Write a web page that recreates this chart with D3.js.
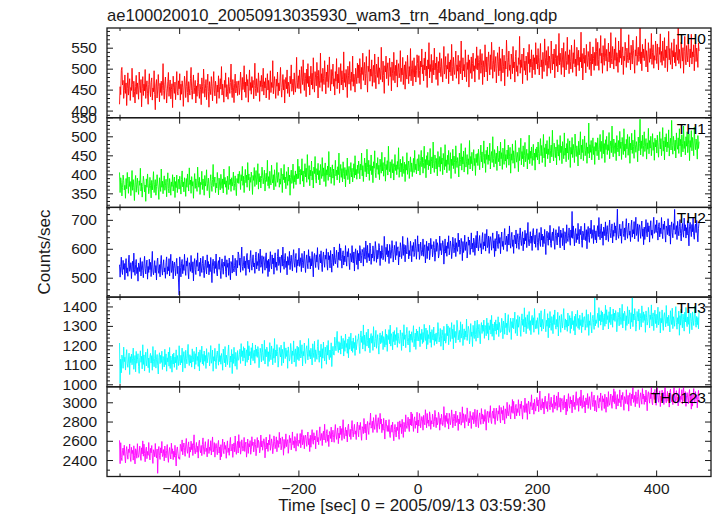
<!DOCTYPE html>
<html><head><meta charset="utf-8">
<script src="https://cdn.jsdelivr.net/npm/d3@7/dist/d3.min.js"></script>
<style>body{margin:0;background:#fff}svg{display:block}</style>
</head><body>
<script>
// ---- data: 1 s bins starting at -500 s ----
const tStart = -500, binSize = 1;
const titleText = "ae100020010_20050913035930_wam3_trn_4band_long.qdp";
const xLabel = "Time [sec] 0 = 2005/09/13 03:59:30";
const yLabel = "Counts/sec";
const panelNames = ["TH0", "TH1", "TH2", "TH3", "TH0123"];
const panelColors = ["#ff0000", "#00ff00", "#0000ff", "#00ffff", "#ff00ff"];
const xTicks = [-400, -200, 0, 200, 400];
const xMinorTicks = [-500, -300, -100, 100, 300];
const yDomains = [[383, 597], [313, 549], [433, 743], [987, 1448], [2229, 3161]];
const yMajorTicks = [[400, 450, 500, 550], [350, 400, 450, 500, 550], [500, 600, 700], [1000, 1100, 1200, 1300, 1400], [2400, 2600, 2800, 3000]];
const yMinorStep = [10, 10, 20, 20, 100];

const th0 = [
415,457,438,496,503,461,472,429,448,485,441,466,412,453,490,437,459,476,424,455,448,501,463,432,470,445,418,458,484,439,466,451,427,492,460,443,474,409,452,481,436,463,447,498,429,456,471,440,415,462,488,451,433,467,478,425,454,445,495,438,402,461,474,430,449,486,457,421,465,443,470,436,459,512,448,427,463,480,452,418,444,469,491,434,457,473,428,450,464,407,482,455,441,468,426,459,493,446,437,471,
452,488,425,463,439,471,456,410,447,482,466,431,458,495,443,420,469,452,437,476,503,448,427,461,485,440,455,472,418,459,434,467,490,446,429,463,451,414,478,457,441,499,465,432,453,474,426,460,487,445,408,469,452,438,481,457,423,464,493,449,435,470,456,417,461,444,483,429,458,476,451,505,437,463,448,420,472,455,490,433,462,446,427,479,458,441,467,511,448,431,474,456,419,465,487,442,453,470,436,460,
471,438,455,492,466,425,479,450,463,507,444,468,431,486,459,474,420,462,497,448,467,439,481,455,472,428,460,513,452,435,476,458,443,490,466,422,471,457,484,446,463,501,437,469,454,478,430,459,488,449,472,426,461,495,443,467,455,519,440,464,481,452,429,475,458,492,436,466,447,470,503,455,432,461,486,449,474,418,463,479,452,497,441,468,457,433,482,464,509,446,459,475,438,490,461,444,471,527,453,467,
483,452,497,468,441,505,479,462,521,470,448,490,476,433,499,465,512,457,482,437,474,506,461,489,451,526,470,444,493,478,459,515,484,430,496,472,455,537,467,488,446,501,476,462,519,481,440,492,469,509,455,485,528,471,447,498,463,482,511,458,476,437,493,470,524,452,487,466,503,441,480,512,461,495,474,449,540,467,489,456,498,473,431,506,484,463,517,477,448,492,469,530,458,487,475,444,501,482,464,513,
478,509,465,524,490,451,503,486,537,472,496,515,461,488,529,477,444,506,493,545,470,499,482,521,458,494,508,467,535,486,452,511,497,479,528,463,502,489,474,551,495,468,518,484,441,507,492,530,476,499,514,460,493,525,481,503,447,516,488,472,539,495,466,508,483,521,456,497,512,478,490,543,469,501,485,527,462,494,509,451,517,487,475,532,498,464,505,482,548,471,500,519,459,492,526,480,507,468,495,533,
512,479,531,496,462,518,504,547,488,509,471,525,497,540,483,506,455,521,499,562,478,510,493,534,466,502,520,485,549,497,513,474,528,501,460,517,490,538,506,481,524,495,468,511,553,487,503,529,476,508,499,536,464,516,492,521,483,558,505,471,527,498,486,514,542,477,509,494,532,463,503,519,488,566,501,473,526,495,510,480,545,507,469,515,498,533,456,521,504,489,528,476,512,537,494,507,468,524,500,552,
497,531,515,474,522,546,489,508,536,462,519,503,480,557,511,492,528,471,515,540,506,485,533,498,563,520,477,509,544,493,512,529,466,501,538,517,483,552,495,524,470,511,547,490,505,532,459,518,499,568,527,481,514,542,496,509,475,535,521,488,553,502,516,468,529,544,493,507,482,526,510,577,489,521,503,535,464,513,549,496,518,485,530,506,472,539,512,558,491,523,504,545,478,517,533,497,526,486,562,511,
532,499,548,512,485,527,560,504,521,476,539,516,493,571,526,508,543,482,519,553,501,530,514,489,566,522,497,535,511,547,478,524,558,506,531,492,518,584,509,537,515,486,549,523,503,562,480,528,541,497,520,575,510,533,488,545,517,499,556,526,491,538,512,569,504,523,482,551,530,508,544,495,527,516,587,502,536,473,521,549,513,532,490,558,519,505,541,527,498,564,517,483,535,511,552,524,496,539,507,572,
541,507,563,522,496,548,531,579,513,537,489,555,527,508,572,535,518,546,494,529,561,516,540,502,586,524,511,553,533,499,547,520,574,506,538,529,491,566,515,544,525,596,509,536,552,486,530,519,563,541,503,549,527,514,581,521,538,497,556,532,511,568,543,520,489,545,530,577,508,534,551,517,529,601,512,540,495,558,526,547,519,535,571,504,543,528,492,562,536,515,548,523,584,510,539,557,501,531,520,566,
538,512,559,527,497,551,534,583,515,541,508,566,530,519,574,502,545,526,554,493,537,589,521,548,510,533,562,499,543,528,571,514,539,506,557,530,520,598,512,546,525,501,563,535,518,550,489,541,577,523,509,555,532,516,569,538,504,547,526,582,511,540,528,557,495,536,564,517,549,530,503,561,542];

const th1 = [
405,352,391,378,343,366,398,384,359,371,337,389,362,405,376,350,393,368,381,344,372,410,358,386,365,331,379,397,353,374,390,362,347,383,371,416,356,377,340,368,395,381,354,372,329,388,366,401,375,349,363,392,370,338,384,359,379,407,352,373,386,345,368,399,377,361,334,391,372,355,414,366,382,349,375,396,358,370,387,341,378,404,363,351,389,372,345,380,368,399,356,374,393,339,381,365,398,352,376,387,
361,395,372,348,386,409,367,380,354,391,374,342,389,366,401,378,356,417,373,385,350,394,369,381,337,378,402,363,388,371,355,419,384,366,392,347,379,373,408,360,388,375,345,397,369,383,412,357,376,390,364,338,382,399,371,355,386,426,368,379,393,352,377,364,405,381,346,390,372,359,400,377,363,388,351,414,374,392,366,383,347,395,378,360,421,373,387,355,391,369,382,406,358,376,396,365,344,389,378,401,
376,408,392,360,399,383,421,371,395,352,387,413,378,398,366,431,385,401,357,392,379,406,390,347,397,384,418,368,393,410,373,386,428,361,402,380,395,364,389,419,398,375,391,411,356,387,403,381,437,370,394,363,408,385,372,424,390,377,399,359,412,383,368,396,431,379,391,405,366,388,374,416,395,352,401,386,426,378,393,362,407,389,371,419,382,398,345,392,411,376,385,427,363,397,380,409,373,401,388,440,
389,421,405,374,413,398,441,382,409,367,400,428,393,416,379,452,404,387,423,370,411,396,435,385,408,364,419,402,447,391,377,415,399,429,386,410,372,426,403,389,444,395,417,381,406,430,368,412,398,422,384,460,401,393,419,376,408,425,390,414,371,403,437,396,411,385,420,399,456,378,407,426,392,415,380,433,402,388,418,367,412,397,443,386,409,421,375,404,431,393,416,380,405,428,391,449,398,413,387,424,
402,435,419,388,427,411,456,396,423,381,414,443,407,430,393,466,418,401,437,384,425,410,451,399,422,378,433,416,462,405,391,429,413,444,400,424,386,440,417,403,458,409,431,395,420,445,382,426,412,436,398,474,415,407,433,390,422,439,404,428,385,417,452,410,425,399,434,413,470,392,421,440,406,429,394,447,416,402,432,381,426,411,457,400,423,435,389,418,446,407,430,394,419,442,405,463,412,427,401,438,
441,409,452,427,398,436,463,420,445,403,431,474,416,439,391,449,425,458,412,437,422,468,401,433,446,417,485,428,405,451,436,414,442,396,460,430,419,447,408,471,427,443,399,455,434,412,478,421,438,404,450,426,463,410,432,457,389,440,423,466,415,448,431,402,475,437,418,444,429,393,456,422,439,481,411,446,427,461,406,435,470,419,433,452,400,441,425,489,414,447,428,458,409,436,465,423,442,397,453,431,
455,423,466,440,412,450,477,433,459,417,445,488,429,453,405,463,439,472,426,451,436,482,414,447,460,431,499,442,419,465,450,428,456,410,474,444,433,461,422,485,441,457,413,469,448,426,492,435,452,418,464,440,477,424,446,471,403,454,437,480,429,462,445,416,489,451,432,458,443,407,470,436,453,495,425,460,441,475,420,449,484,433,447,466,414,455,439,503,428,461,442,472,423,450,479,437,456,411,467,445,
472,438,485,455,427,466,494,449,476,431,461,505,443,470,420,480,454,489,441,467,452,499,430,463,477,446,516,458,435,482,466,444,472,425,491,460,448,478,437,502,457,474,428,486,463,441,509,450,469,433,481,456,494,439,461,488,418,471,453,497,444,479,462,431,506,467,447,475,459,422,487,451,470,512,440,477,457,492,436,465,501,449,463,483,429,472,455,535,443,478,458,489,438,467,496,452,473,426,484,461,
483,449,496,466,438,477,505,460,487,442,472,516,454,481,431,491,465,500,452,478,463,510,441,474,488,457,527,469,446,493,477,455,483,436,502,471,459,489,448,513,468,485,439,497,474,452,520,461,480,444,492,467,505,450,472,499,429,482,464,508,455,490,473,442,517,478,458,486,470,433,498,462,481,545,451,488,468,503,447,476,512,460,474,494,440,483,466,521,454,489,469,500,449,478,507,463,484,437,495,472,
490,456,503,473,445,484,512,467,494,449,479,523,461,488,438,498,472,507,459,485,470,517,448,481,495,464,542,476,453,500,484,462,490,443,509,478,466,496,455,520,475,492,446,504,481,459,527,468,487,451,499,474,512,457,479,506,436,489,471,515,462,497,480,449,524,485,465,493,477,440,502,468,486];

const th2 = [
545,502,538,571,524,511,560,529,549,493,541,566,516,534,505,554,578,522,530,552,497,540,557,519,585,527,508,546,563,514,535,488,551,542,521,569,506,537,556,525,500,548,574,531,513,544,561,495,539,518,564,528,553,504,547,591,523,510,536,559,517,542,492,555,568,526,515,545,503,550,577,530,509,541,562,520,534,498,552,572,512,538,524,566,506,547,581,518,527,558,496,543,554,532,507,549,567,514,540,485,
440,572,536,503,550,563,514,545,525,581,533,508,558,540,569,520,496,552,544,522,577,534,517,555,489,547,566,528,511,560,539,586,523,532,553,505,568,537,518,549,574,526,500,543,561,530,513,579,535,556,510,546,521,570,527,483,551,564,538,515,557,532,582,519,506,548,559,529,571,524,497,544,565,533,512,554,540,576,522,502,562,536,550,508,568,527,493,556,547,516,578,531,520,542,567,525,507,560,534,589,
579,543,568,519,562,606,538,525,551,574,533,558,508,571,584,542,531,561,519,566,594,547,526,558,579,537,551,515,569,589,530,556,542,584,524,565,599,536,545,576,515,562,573,551,526,568,586,533,559,504,564,521,557,590,543,530,579,548,568,512,561,586,536,554,525,574,598,542,550,572,518,561,578,540,606,548,529,567,584,535,557,510,573,564,543,591,528,559,578,547,523,571,597,554,536,567,584,518,562,541,
555,602,539,548,569,521,584,553,534,565,592,544,518,561,579,548,531,597,553,574,530,566,541,590,547,503,571,584,558,535,579,554,604,541,528,570,581,551,593,546,521,568,589,557,536,578,564,600,546,526,588,562,576,534,594,553,519,582,573,542,606,559,548,570,595,553,535,588,562,617,559,602,566,533,580,593,544,575,555,611,565,540,590,572,601,552,528,584,576,554,611,568,551,589,523,581,600,562,545,594,
529,584,558,611,593,551,576,598,587,540,604,573,564,627,593,552,612,570,584,558,620,600,546,582,568,610,589,557,578,625,600,553,595,565,576,618,605,542,592,567,611,588,562,575,643,599,556,605,580,616,572,593,549,615,598,567,585,628,602,554,581,612,593,562,625,577,598,607,544,591,572,621,604,566,585,643,577,615,598,555,612,590,582,638,614,565,594,576,626,601,555,611,591,622,573,586,633,600,564,607,
645,590,616,563,581,623,598,576,587,634,574,605,614,551,585,626,566,608,594,620,562,582,636,600,614,572,593,625,604,557,586,633,591,621,610,568,581,644,594,619,579,602,628,615,547,591,634,585,610,574,622,601,645,579,596,627,609,566,592,640,617,586,605,636,573,621,600,591,654,607,630,581,598,636,617,559,625,587,604,647,594,616,624,568,592,641,612,630,580,605,655,599,619,588,637,624,577,610,646,603,
661,614,593,625,646,604,618,582,636,656,598,624,610,652,592,633,667,604,613,644,584,631,642,620,595,637,655,602,628,573,635,592,628,661,614,601,650,619,639,583,633,658,608,626,597,646,670,614,622,644,591,634,651,613,679,621,602,640,657,608,631,584,647,638,617,665,602,633,652,621,598,646,672,629,611,642,659,593,637,616,664,628,653,604,647,691,623,610,636,659,619,644,594,657,670,628,617,647,605,652,
669,621,595,638,656,625,608,674,630,651,607,643,618,667,624,580,648,661,635,612,656,631,681,618,605,647,658,628,670,623,598,645,666,634,613,655,641,677,623,603,665,639,653,611,671,630,596,659,650,619,683,636,625,647,672,630,612,665,639,729,636,679,643,610,657,670,621,652,632,688,642,617,667,649,678,629,605,661,653,631,688,645,628,666,600,658,677,639,622,671,652,699,636,645,666,618,681,650,631,662,
620,663,680,642,708,650,631,669,686,637,659,612,675,666,645,693,630,661,680,649,625,673,699,656,638,669,686,620,664,643,690,654,679,630,673,737,649,636,662,685,644,669,619,682,695,653,642,672,630,677,704,657,636,668,689,647,661,625,679,699,640,666,652,694,634,675,709,646,655,686,625,672,683,661,636,678,696,643,669,614,675,632,668,701,654,641,690,659,679,623,672,697,647,665,636,685,709,653,661,683,
656,699,663,630,677,690,641,672,652,708,660,635,685,667,696,647,623,679,671,649,704,661,644,682,616,674,693,655,638,687,666,736,650,659,680,632,695,664,645,676,701,653,627,670,688,657,640,706,662,683,637,673,648,697,654,610,678,691,665,642,684,659,709,646,633,675,686,656,698,651,624,671,692];

const th3 = [
1212,1005,1129,1059,1150,1132,1082,1191,1116,1139,1073,1146,1178,1105,1087,1125,1160,1050,1142,1111,1155,1100,1134,1186,1077,1121,1148,1064,1169,1108,1128,1157,1091,1056,1137,1172,1113,1144,1079,1203,1102,1151,1068,1130,1165,1094,1123,1182,1085,1135,1060,1141,1159,1109,1147,1072,1194,1118,1090,1133,1175,1083,1126,1153,1098,1053,1138,1162,1106,1149,1112,1170,1076,1143,1131,1089,1180,1101,1156,1067,1136,1115,1166,1093,1189,1081,1145,1127,1062,1154,1104,1161,1087,1140,1110,1177,1075,1148,1122,1096,
1198,1117,1099,1149,1111,1186,1064,1140,1168,1125,1083,1175,1132,1105,1160,1205,1120,1096,1152,1109,1146,1088,1182,1115,1127,1169,1078,1157,1102,1191,1122,1143,1092,1165,1069,1177,1113,1131,1196,1104,1154,1097,1171,1118,1148,1081,1183,1110,1136,1162,1163,1094,1129,1199,1108,1126,1176,1067,1142,1119,1185,1112,1080,1153,1171,1133,1098,1208,1116,1147,1103,1158,1124,1072,1181,1137,1110,1194,1089,1150,1130,1101,1167,1202,1121,1086,1145,1114,1179,1055,1156,1107,1190,1128,1093,1164,1135,1076,1173,1123,
1128,1154,1180,1107,1209,1142,1172,1119,1193,1136,1186,1094,1159,1177,1113,1221,1125,1198,1147,1168,1099,1188,1133,1212,1121,1163,1175,1108,1202,1144,1181,1138,1194,1170,1085,1130,1185,1158,1115,1207,1165,1122,1150,1226,1104,1179,1141,1191,1173,1092,1167,1117,1214,1155,1126,1197,1162,1100,1183,1134,1235,1111,1176,1145,1204,1169,1088,1123,1189,1160,1140,1201,1096,1180,1153,1109,1218,1166,1132,1187,1143,1174,1082,1192,1157,1119,1137,1210,1178,1105,1171,1148,1223,1114,1164,1182,1091,1161,1196,1127,
1190,1121,1156,1226,1135,1153,1203,1094,1169,1146,1212,1139,1107,1180,1198,1160,1125,1235,1143,1174,1130,1185,1151,1099,1208,1164,1137,1221,1116,1177,1157,1128,1194,1229,1148,1113,1172,1141,1206,1082,1183,1134,1217,1155,1120,1191,1162,1103,1200,1150,1225,1144,1126,1176,1138,1213,1091,1167,1195,1152,1150,1242,1199,1172,1227,1272,1187,1163,1219,1176,1213,1155,1249,1182,1194,1236,1145,1224,1169,1258,1189,1210,1159,1232,1136,1244,1180,1198,1263,1171,1221,1164,1238,1185,1215,1148,1250,1177,1203,1229,
1230,1259,1193,1158,1239,1274,1215,1246,1181,1305,1204,1253,1170,1232,1267,1196,1225,1284,1187,1237,1162,1243,1261,1211,1249,1174,1296,1220,1192,1235,1277,1185,1228,1255,1200,1155,1240,1264,1208,1251,1214,1272,1178,1245,1233,1191,1282,1203,1258,1169,1251,1230,1281,1208,1304,1196,1260,1242,1177,1269,1219,1276,1202,1255,1225,1292,1190,1263,1237,1211,1210,1279,1244,1174,1265,1247,1197,1306,1231,1254,1188,1261,1293,1220,1202,1240,1275,1165,1257,1226,1270,1215,1249,1301,1192,1236,1263,1179,1284,1223,
1274,1248,1222,1295,1193,1260,1230,1283,1209,1266,1216,1308,1243,1225,1289,1181,1277,1204,1255,1234,1303,1214,1269,1190,1281,1239,1227,1294,1200,1258,1221,1264,1208,1232,1317,1272,1217,1244,1287,1195,1237,1280,1252,1176,1298,1223,1261,1211,1229,1310,1250,1300,1203,1262,1291,1220,1255,1317,1234,1283,1182,1306,1241,1272,1213,1248,1329,1294,1228,1257,1277,1216,1321,1237,1264,1308,1199,1251,1285,1230,1274,1243,1335,1225,1260,1298,1280,1207,1239,1312,1246,1269,1194,1303,1253,1235,1326,1256,1221,1290,
1330,1238,1281,1308,1253,1208,1293,1317,1261,1304,1272,1330,1236,1303,1291,1249,1340,1261,1316,1227,1301,1280,1331,1258,1354,1246,1310,1292,1227,1319,1274,1331,1257,1310,1280,1347,1245,1318,1292,1266,1270,1339,1304,1234,1325,1307,1257,1366,1291,1314,1253,1326,1358,1285,1267,1305,1340,1230,1322,1291,1340,1285,1319,1371,1262,1306,1333,1249,1354,1293,1318,1347,1281,1246,1327,1362,1303,1334,1269,1393,1294,1343,1260,1322,1357,1286,1315,1374,1277,1327,1255,1336,1354,1304,1342,1267,1389,1313,1285,1328,
1287,1342,1308,1256,1365,1321,1294,1378,1273,1334,1314,1285,1351,1386,1305,1270,1329,1298,1363,1239,1340,1291,1374,1312,1277,1348,1319,1260,1357,1307,1382,1301,1283,1333,1295,1370,1248,1324,1352,1309,1267,1359,1316,1289,1344,1389,1304,1280,1336,1293,1330,1272,1366,1299,1311,1353,1262,1341,1286,1375,1306,1327,1276,1349,1253,1361,1297,1315,1380,1288,1338,1281,1355,1302,1332,1265,1367,1294,1320,1346,1347,1278,1313,1383,1292,1310,1360,1251,1326,1303,1369,1296,1264,1337,1355,1317,1282,1445,1300,1331,
1313,1339,1365,1292,1394,1327,1357,1304,1378,1321,1371,1279,1344,1362,1298,1406,1310,1383,1332,1353,1284,1373,1318,1397,1306,1348,1360,1293,1387,1329,1366,1323,1379,1355,1270,1315,1370,1343,1300,1392,1350,1307,1335,1411,1289,1364,1326,1376,1358,1277,1352,1302,1399,1340,1311,1382,1347,1285,1368,1319,1446,1296,1361,1330,1389,1354,1273,1308,1374,1345,1325,1386,1281,1365,1338,1294,1403,1351,1317,1372,1328,1359,1267,1377,1342,1304,1322,1395,1363,1290,1356,1333,1408,1299,1349,1367,1276,1346,1381,1312,
1360,1291,1326,1396,1305,1323,1373,1264,1339,1316,1382,1309,1277,1350,1368,1330,1295,1405,1313,1344,1300,1355,1321,1269,1378,1334,1307,1391,1286,1347,1327,1298,1364,1399,1318,1283,1342,1311,1376,1252,1353,1304,1387,1325,1290,1361,1332,1273,1370,1320,1395,1314,1296,1346,1308,1383,1261,1337,1365,1322,1280,1372,1329,1302,1357,1402,1317,1293,1349,1306,1343,1285,1379];

const th0123 = [
2605,2362,2580,2427,2394,2497,2525,2449,2554,2438,2370,2486,2540,2459,2409,2512,2477,2567,2433,2385,2532,2467,2501,2399,2548,2444,2360,2517,2494,2419,2570,2456,2428,2483,2545,2441,2396,2527,2464,2599,2440,2565,2468,2382,2503,2534,2414,2489,2449,2582,2462,2401,2521,2475,2551,2431,2365,2507,2488,2434,2572,2459,2422,2514,2262,2495,2541,2447,2406,2527,2473,2593,2436,2455,2509,2391,2546,2470,2423,2499,2561,2443,2376,2484,2530,2454,2411,2575,2466,2517,2404,2492,2430,2553,2446,2338,2504,2536,2472,2417,
2430,2407,2564,2545,2491,2609,2454,2530,2577,2501,2439,2557,2624,2516,2470,2546,2589,2425,2534,2483,2596,2508,2570,2447,2554,2662,2496,2464,2528,2583,2481,2543,2420,2573,2606,2503,2475,2551,2446,2562,2630,2514,2460,2541,2591,2488,2523,2433,2567,2615,2468,2533,2499,2601,2452,2556,2640,2483,2506,2581,2430,2544,2572,2517,2455,2559,2604,2473,2536,2401,2560,2435,2532,2618,2497,2466,2586,2511,2551,2418,2538,2599,2479,2525,2449,2569,2635,2493,2512,2566,2428,2541,2578,2486,2650,2505,2459,2553,2594,2473,
2664,2529,2592,2461,2506,2610,2548,2493,2521,2635,2489,2564,2587,2430,2514,2618,2469,2571,2537,2602,2460,2508,2642,2552,2587,2484,2534,2615,2561,2445,2518,2634,2529,2605,2577,2474,2507,2660,2537,2599,2502,2557,2621,2589,2423,2531,2638,2515,2577,2489,2607,2556,2665,2501,2544,2620,2574,2466,2533,2651,2594,2518,2565,2641,2486,2604,2600,2531,2688,2568,2627,2506,2547,2641,2595,2450,2614,2522,2559,2672,2539,2593,2612,2470,2536,2656,2580,2626,2506,2567,2692,2559,2599,2524,2644,2613,2492,2602,2675,2550,
2543,2608,2574,2676,2527,2631,2715,2558,2581,2656,2517,2631,2659,2604,2542,2646,2691,2560,2623,2488,2658,2533,2630,2716,2595,2564,2684,2609,2649,2516,2648,2709,2589,2635,2559,2679,2745,2603,2622,2676,2550,2663,2700,2608,2772,2627,2581,2675,2716,2595,2660,2540,2697,2678,2624,2742,2587,2663,2710,2634,2584,2702,2769,2661,2615,2691,2734,2570,2679,2628,2753,2665,2727,2604,2711,2819,2653,2621,2685,2740,2649,2711,2588,2741,2774,2671,2643,2719,2614,2730,2810,2694,2640,2721,2771,2668,2703,2613,2747,2795,
2702,2641,2761,2715,2791,2671,2605,2747,2728,2674,2832,2719,2682,2774,2610,2755,2801,2707,2666,2787,2768,2888,2731,2750,2804,2686,2841,2765,2718,2794,2871,2753,2686,2794,2840,2764,2721,2885,2776,2827,2684,2772,2710,2833,2726,2618,2784,2816,2752,2697,2759,2697,2820,2667,2634,2737,2765,2689,2794,2678,2600,2716,2770,2689,2639,2742,2707,2797,2663,2615,2807,2742,2776,2674,2823,2719,2635,2792,2769,2694,2870,2756,2728,2783,2845,2741,2696,2827,2764,2899,2755,2880,2783,2697,2818,2849,2729,2804,2764,2897,
2681,2816,2753,2884,2839,2735,2797,2852,2824,2710,2864,2789,2766,2923,2839,2735,2884,2782,2816,2751,2901,2853,2719,2809,2774,2877,2827,2746,2800,2916,2852,2736,2841,2765,2793,2896,2863,2710,2833,2771,2876,2821,2757,2789,2955,2847,2740,2863,2801,2889,2780,2831,2722,2886,2843,2767,2813,2921,2854,2736,2801,2877,2830,2754,2909,2791,2795,2864,2707,2827,2776,2897,2856,2762,2808,2953,2789,2881,2844,2731,2873,2819,2800,2942,2876,2756,2832,2786,2906,2845,2728,2861,2821,2896,2776,2807,2928,2818,2745,2870,
2921,2803,2736,2844,2890,2814,2771,2935,2826,2877,2776,2864,2802,2925,2818,2710,2876,2908,2844,2789,2904,2842,2965,2812,2779,2882,2910,2834,2939,2823,2770,2886,2940,2859,2809,2912,2877,2967,2833,2785,2947,2882,2916,2814,2963,2859,2775,2932,2909,2834,3000,2886,2858,2913,2975,2871,2826,2957,2894,3029,2885,3010,2913,2827,2948,2979,2859,2934,2894,3027,2922,2861,2981,2935,3011,2891,2825,2967,2948,2894,3044,2931,2894,2986,2822,2967,3013,2919,2878,2999,2958,3078,2921,2940,2994,2876,3031,2955,2908,2984,
3051,2963,3025,2902,3009,3117,2951,2919,2983,3038,2939,3001,2878,3031,3064,2961,2933,3009,2904,3020,3092,2976,2922,3003,3053,2950,2985,2895,3029,3077,2933,2998,2964,3066,2917,3021,3105,2948,2971,3046,2898,3012,3040,2985,2923,3027,3072,2941,3004,2869,3032,2907,3004,3090,2969,2938,3058,2983,3023,2890,3013,3074,2954,3000,2924,3044,3110,2968,2987,3041,2906,3019,3056,2964,3128,2983,2937,3031,3072,2951,3009,2889,3046,3027,2973,3091,2936,3012,3059,2983,2924,3042,3109,3001,2955,3031,3074,2910,3019,2968,
2900,3016,3070,2989,2939,3042,3007,3097,2963,2915,3068,3003,3037,2935,3084,2980,2896,3053,3030,2955,3111,2997,2969,3024,3086,2982,2937,3068,3005,3140,2987,3112,3015,2929,3050,3081,2961,3036,2996,3129,3014,2953,3073,3027,3103,2983,2917,3059,3040,2986,3130,3017,2980,3072,2908,3053,3099,3005,2964,3085,3036,3156,2999,3018,3072,2954,3109,3033,2986,3062,3130,3012,2945,3053,3099,3023,2980,3144,3035,3086,2978,3066,3004,3127,3020,2912,3078,3110,3046,2991,3099,3037,3160,3007,2974,3077,3105,3029,3134,3018,
2969,3087,3154,3046,3000,3076,3119,2955,3064,3013,3126,3038,3100,2977,3084,3192,3026,2994,3058,3113,3011,3073,2950,3103,3136,3033,3005,3081,2976,3092,3160,3044,2990,3071,3121,3018,3053,2963,3097,3145,2998,3063,3029,3131,2982,3086,3170,3013,3036,3111,2958,3072,3100,3045,2983,3087,3132,3001,3064,2929,3085,2960,3057,3143,3022,2991,3111,3036,3076,2943,3063,3124,3004];

const seriesList = [th0, th1, th2, th3, th0123];

// ---- layout ----
const W = 717, H = 516;
const plotLeft = 107, plotRight = 711, plotTop = 28, plotBottom = 476.5;
const nP = seriesList.length;
const pH = (plotBottom - plotTop) / nP;
const font = "'Liberation Sans', Arial, Helvetica, sans-serif";
const ink = "#1a1a1a";

const svg = d3.select("body").append("svg").attr("width", W).attr("height", H);
svg.append("rect").attr("width", W).attr("height", H).attr("fill", "#fff");

const x = d3.scaleLinear().domain([-521, 492]).range([plotLeft, plotRight]);
const defs = svg.append("defs");

function styleAxis(g, size) {
  g.attr("font-family", font).attr("font-size", size);
  g.select(".domain").remove();
  g.selectAll(".tick line").attr("stroke", ink).attr("stroke-width", 1);
  g.selectAll(".tick text").attr("fill", ink);
}

seriesList.forEach((vals, p) => {
  const y0 = plotTop + p * pH, y1 = plotTop + (p + 1) * pH;
  const y = d3.scaleLinear().domain(yDomains[p]).range([y1, y0]);
  const tOf = i => tStart + i * binSize;

  defs.append("clipPath").attr("id", "clip" + p)
    .append("rect").attr("x", plotLeft).attr("y", y0).attr("width", plotRight - plotLeft).attr("height", pH);

  const line = d3.line().x((d, i) => x(tOf(i))).y(d => y(d));
  svg.append("path").datum(vals)
    .attr("clip-path", `url(#clip${p})`)
    .attr("fill", "none").attr("stroke", panelColors[p])
    .attr("stroke-width", 0.9).attr("stroke-linejoin", "bevel")
    .attr("d", line);

  const [d0, d1] = yDomains[p];
  const minors = d3.range(Math.ceil(d0 / yMinorStep[p]) * yMinorStep[p], d1, yMinorStep[p])
    .filter(v => !yMajorTicks[p].includes(v));
  svg.append("g").attr("transform", `translate(${plotLeft},0)`)
    .call(d3.axisLeft(y).tickValues(minors).tickSizeInner(-3).tickSizeOuter(0).tickFormat(""))
    .call(g => styleAxis(g, 15.5));
  svg.append("g").attr("transform", `translate(${plotRight},0)`)
    .call(d3.axisRight(y).tickValues(minors).tickSizeInner(-3).tickSizeOuter(0).tickFormat(""))
    .call(g => styleAxis(g, 15.5));
  svg.append("g").attr("transform", `translate(${plotLeft},0)`)
    .call(d3.axisLeft(y).tickValues(yMajorTicks[p]).tickSizeInner(-6).tickSizeOuter(0).tickPadding(10).tickFormat(d3.format("d")))
    .call(g => styleAxis(g, 15.5));
  svg.append("g").attr("transform", `translate(${plotRight},0)`)
    .call(d3.axisRight(y).tickValues(yMajorTicks[p]).tickSizeInner(-6).tickSizeOuter(0).tickFormat(""))
    .call(g => styleAxis(g, 15.5));

  const isLast = p === nP - 1;
  svg.append("g").attr("transform", `translate(0,${y1})`)
    .call(d3.axisBottom(x).tickValues(xTicks).tickSizeInner(-6).tickSizeOuter(0).tickPadding(isLast ? 6 : 0)
      .tickFormat(isLast ? d3.format("d") : ""))
    .call(g => styleAxis(g, 15.5));
  svg.append("g").attr("transform", `translate(0,${y1})`)
    .call(d3.axisBottom(x).tickValues(xMinorTicks).tickSizeInner(-3).tickSizeOuter(0).tickFormat(""))
    .call(g => styleAxis(g, 15.5));
  svg.append("g").attr("transform", `translate(0,${y0})`)
    .call(d3.axisTop(x).tickValues(xTicks).tickSizeInner(-6).tickSizeOuter(0).tickFormat(""))
    .call(g => styleAxis(g, 15.5));
  svg.append("g").attr("transform", `translate(0,${y0})`)
    .call(d3.axisTop(x).tickValues(xMinorTicks).tickSizeInner(-3).tickSizeOuter(0).tickFormat(""))
    .call(g => styleAxis(g, 15.5));

  svg.append("rect").attr("x", plotLeft).attr("y", y0).attr("width", plotRight - plotLeft).attr("height", pH)
    .attr("fill", "none").attr("stroke", ink).attr("stroke-width", 1.3);

  svg.append("text").attr("x", 706).attr("y", y0 + 10.5).attr("dy", "0.35em")
    .attr("text-anchor", "end").attr("font-family", font).attr("font-size", 15.5)
    .attr("fill", "#000").text(panelNames[p]);
});

svg.append("text").attr("x", plotLeft).attr("y", 21).attr("font-family", font).attr("font-size", 16.6)
  .attr("fill", ink).text(titleText);
svg.append("text").attr("x", 412).attr("y", 511).attr("text-anchor", "middle")
  .attr("font-family", font).attr("font-size", 17).attr("fill", ink).text(xLabel);
svg.append("text").attr("transform", "translate(50,252) rotate(-90)").attr("text-anchor", "middle")
  .attr("font-family", font).attr("font-size", 17).attr("fill", ink).text(yLabel);
</script>
</body></html>
